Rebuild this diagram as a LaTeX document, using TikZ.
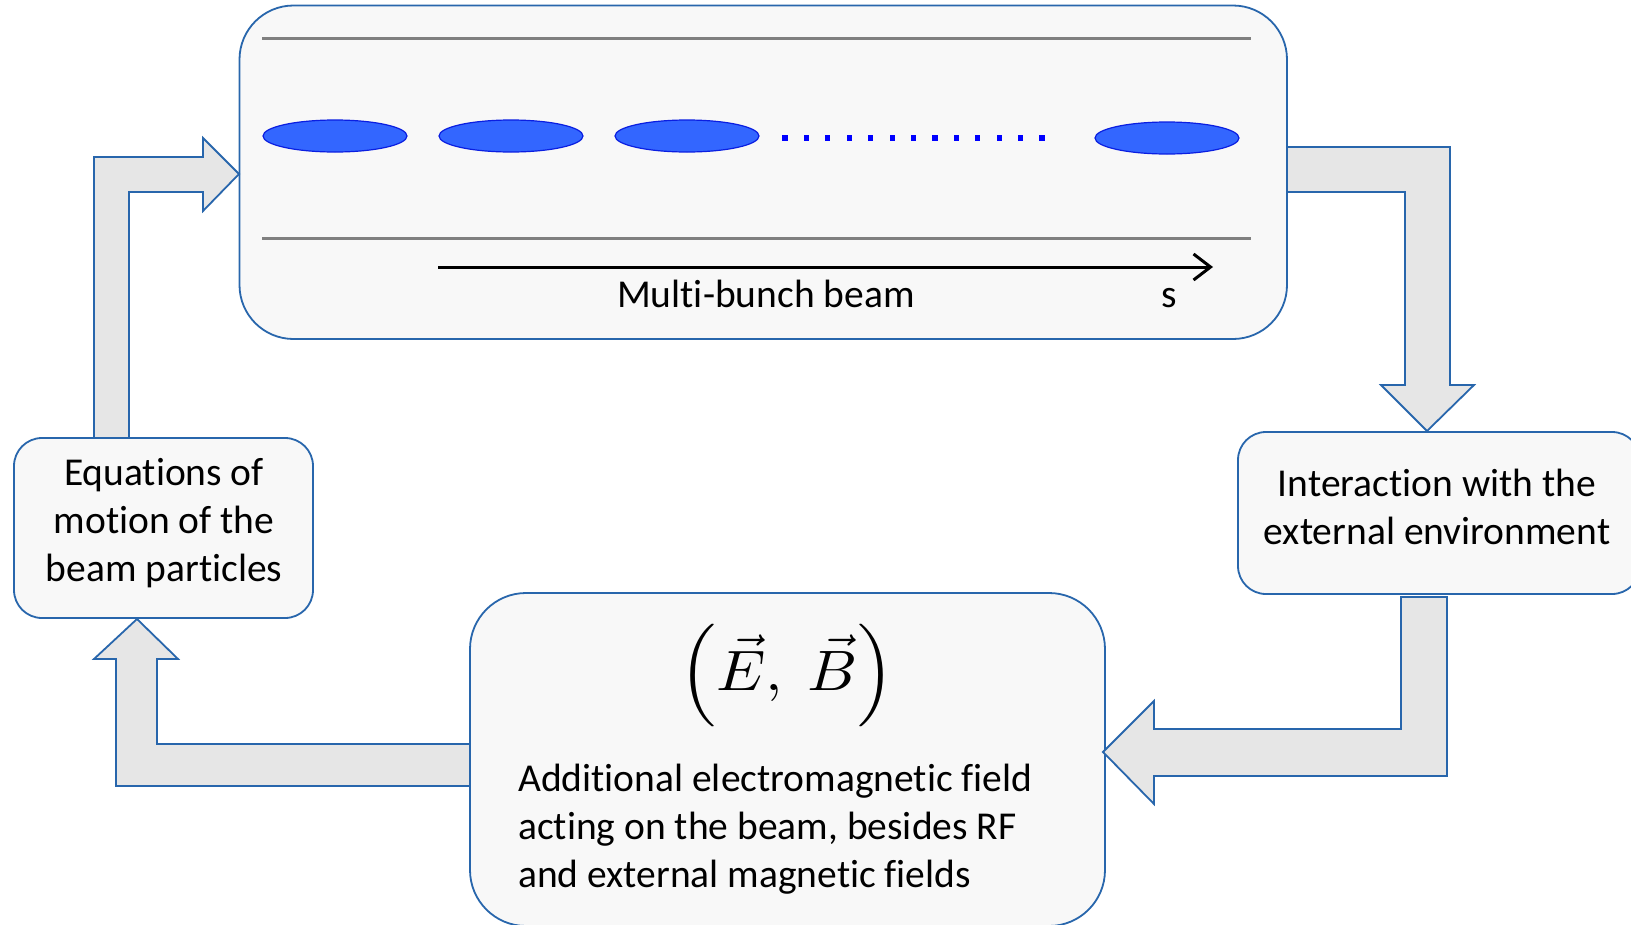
\documentclass[tikz,border=0pt]{standalone}
\usepackage{fontspec}
\setmainfont{Carlito}[Ligatures=NoCommon]
\usepackage{amsmath}
\usepackage{graphicx}
\usetikzlibrary{shapes.geometric,arrows.meta}
\definecolor{boxfill}{RGB}{248,248,248}
\definecolor{boxborder}{RGB}{40,102,172}
\definecolor{arrowfill}{RGB}{230,230,230}
\definecolor{bunchfill}{RGB}{51,102,255}
\definecolor{bunchborder}{RGB}{10,30,225}
\definecolor{dotblue}{RGB}{0,0,255}
\definecolor{railgray}{RGB}{128,128,128}
\begin{document}
\begin{tikzpicture}[x=1pt,y=-1pt,
  box/.style={rectangle,draw=boxborder,fill=boxfill,line width=1.8pt,inner sep=0pt},
  blockarrow/.style={draw=boxborder,fill=arrowfill,line width=1.8pt,line join=miter},
  bunch/.style={ellipse,draw=bunchborder,fill=bunchfill,line width=1.2pt,minimum width=144pt,minimum height=32pt,inner sep=0pt},
  rail/.style={draw=railgray,line width=3pt},
  lbl/.style={font=\fontsize{39.5}{48}\selectfont,inner sep=0pt,text=black}]
\useasboundingbox (0,0) rectangle (1631,924);
\clip (0,0) rectangle (1631,924);
\fill[white] (0,0) rectangle (1631,924);
% boxes
\node[box,rounded corners=54pt,minimum width=1047.5pt,minimum height=333.5pt] (beam) at (763.25,172.25) {};
\node[box,rounded corners=28pt,minimum width=299pt,minimum height=180pt] (eom) at (163.5,528) {};
\node[box,rounded corners=28pt,minimum width=402pt,minimum height=162pt] (env) at (1439,513) {};
\node[box,rounded corners=56pt,minimum width=635pt,minimum height=333pt] (field) at (787.5,759.5) {};
% beam pipe
\coordinate (r1a) at (262,38.5); \coordinate (r1b) at (1251,38.5);
\coordinate (r2a) at (262,238); \coordinate (r2b) at (1251,238);
\draw[rail] (r1a) -- (r1b);
\draw[rail] (r2a) -- (r2b);
% bunches
\node[bunch] (b1) at (335,136) {};
\node[bunch] (b2) at (511,136) {};
\node[bunch] (b3) at (687,136) {};
\node[bunch] (b4) at (1167,138) {};
\foreach \i in {0,...,12} {
  \fill[dotblue] ({785+\i*21.42-2.6},135.4) rectangle +(5.2,5.2);
}
% s axis
\coordinate (sa) at (438,267);
\coordinate (sb) at (1213,267);
\draw[line width=3pt,-{Straight Barb[length=17pt,width=26pt]}] (sa) -- (sb);
\node[lbl,anchor=base west] (mbb) at (617,307) {Multi-bunch beam};
\node[lbl,anchor=base] (sl) at (1169,307) {s};
% texts
\node[lbl,align=center] (eomt) at (164,523) {Equations of\\motion of the\\beam particles};
\node[lbl,align=center] (envt) at (1437,507) {Interaction with the\\external environment};
\node[lbl,align=left,anchor=west] (fieldt) at (518,829) {Additional electromagnetic field\\acting on the beam, besides RF\\and external magnetic fields};
\node[inner sep=0pt,anchor=base] (eb) at (787,690) {\scalebox{6.2}[5.7]{$\Bigl(\vec{E},\ \vec{B}\Bigr)$}};
% block arrows
\draw[blockarrow] (94,438) -- (94,157) -- (203,157) -- (203,138) -- (239,174) -- (203,211) -- (203,192) -- (129,192) -- (129,438) -- cycle;
\draw[blockarrow] (1287,147) -- (1450,147) -- (1450,385) -- (1474,385) -- (1427,431) -- (1381,385) -- (1405,385) -- (1405,192) -- (1287,192) -- cycle;
\draw[blockarrow] (1401,597) -- (1447,597) -- (1447,776) -- (1154,776) -- (1154,804) -- (1103,752) -- (1154,701) -- (1154,729) -- (1401,729) -- cycle;
\draw[blockarrow] (470,744) -- (157,744) -- (157,659) -- (178,659) -- (137,619) -- (94,659) -- (116,659) -- (116,786) -- (470,786) -- cycle;
\end{tikzpicture}
\end{document}
